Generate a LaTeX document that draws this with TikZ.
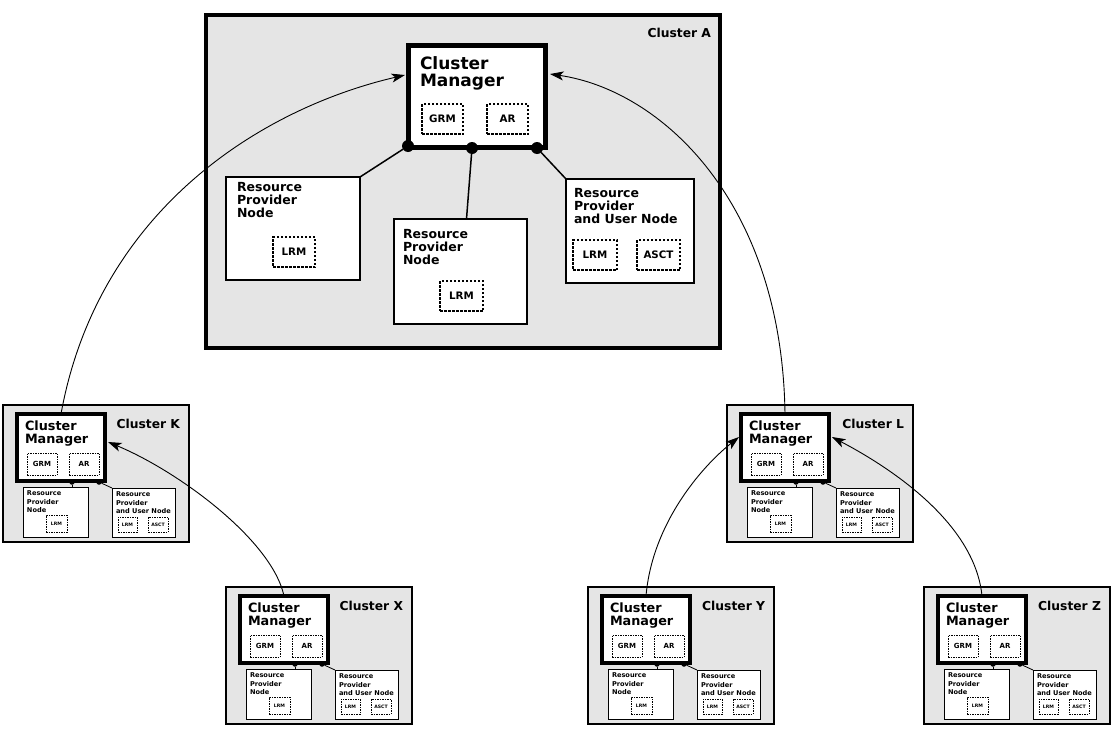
\documentclass[tikz,border=0pt]{standalone}
\usepackage{fontspec}
\setmainfont{DejaVu Sans}
\usetikzlibrary{arrows.meta,calc}
\definecolor{clusterbg}{HTML}{E5E5E5}
\newcommand{\fsz}[2]{\fontsize{#1}{#2}\selectfont\bfseries}
\tikzset{
  every node/.style={inner sep=0pt, outer sep=0pt},
  txt/.style={anchor=north west, align=left},
  bigcluster/.style={draw, fill=clusterbg, line width=4pt, anchor=north west},
  smallcluster/.style={draw, fill=clusterbg, line width=1.5pt, anchor=north west,
    minimum width=186pt, minimum height=137pt},
  bigcm/.style={draw, fill=white, line width=5pt, anchor=north west},
  smallcm/.style={draw, fill=white, line width=3.5pt, anchor=north west,
    minimum width=88pt, minimum height=67pt},
  bigbox/.style={draw, fill=white, line width=2pt, anchor=north west},
  smallbox/.style={draw, fill=white, line width=1pt, anchor=north west},
  bigdash/.style={draw, fill=white, line width=1.5pt, dash pattern=on 2.5pt off 1.5pt,
    anchor=north west, font=\fsz{10.3}{10.3}},
  smalldash/.style={draw, fill=white, line width=0.8pt, dash pattern=on 1.5pt off 1pt,
    anchor=north west},
  bigdot/.style={circle, fill=black, minimum size=12pt},
  smalldot/.style={circle, fill=black, minimum size=5.5pt},
  biglink/.style={line width=1.5pt},
  smalllink/.style={line width=0.8pt},
  flow/.style={-{Stealth[length=13.5pt,width=9pt,inset=3.5pt]}, line width=0.9pt}
}
\begin{document}
\begin{tikzpicture}[x=1pt,y=-1pt]
  \useasboundingbox (0,0) rectangle (1113,731);

  % cluster A
  \node[bigcluster, minimum width=514pt, minimum height=333pt] (clA) at (206,15) {};
  \node[anchor=base east, font=\fsz{12.3}{12.3}] (labA) at (711,37) {Cluster A};
  \node[bigcm, minimum width=137pt, minimum height=102pt] (cmA) at (408,45) {};
  \node[txt, font=\fsz{17}{17}] (cmtA) at (420,57) {Cluster\\Manager};
  \node[bigdash, minimum width=41pt, minimum height=30pt] (grmA) at (422,104) {GRM};
  \node[bigdash, minimum width=41pt, minimum height=30pt] (arA) at (487,104) {AR};

  \node[bigbox, minimum width=134pt, minimum height=103pt] (rpnA1) at (226,177) {};
  \node[txt, font=\fsz{12.5}{13}] (rpntA1) at (237,182) {Resource\\Provider\\Node};
  \node[bigdash, minimum width=42pt, minimum height=30pt] (lrmA1) at (273,237) {LRM};

  \node[bigbox, minimum width=133pt, minimum height=105pt] (rpnA2) at (394,219) {};
  \node[txt, font=\fsz{12.5}{13}] (rpntA2) at (403,229) {Resource\\Provider\\Node};
  \node[bigdash, minimum width=43pt, minimum height=30pt] (lrmA2) at (440,281) {LRM};

  \node[bigbox, minimum width=128pt, minimum height=104pt] (rpuA) at (566,179) {};
  \node[txt, font=\fsz{12.5}{13}] (rputA) at (574,188) {Resource\\Provider\\and User Node};
  \node[bigdash, minimum width=44pt, minimum height=30pt] (lrmA3) at (573,240) {LRM};
  \node[bigdash, minimum width=43pt, minimum height=30pt] (asctA) at (637,240) {ASCT};

  \node[bigdot] (d1A) at (408,146) {};
  \node[bigdot] (d2A) at (472,148) {};
  \node[bigdot] (d3A) at (537,148) {};
  \draw[biglink] (d1A) -- (rpnA1.north east);
  \draw[biglink] (d2A) -- ($(rpnA2.north)+(6,0)$);
  \draw[biglink] (d3A) -- (rpuA.north west);

  % small clusters
  \foreach \nm/\px/\py in {K/3/405, L/727/405, X/226/587, Y/588/587, Z/924/587} {
    \begin{scope}[shift={(\px,\py)}]
      \node[smallcluster] (cl\nm) at (0,0) {};
      \node[anchor=base east, font=\fsz{12.3}{12.3}] (lab\nm) at (177,23) {Cluster \nm};
      \node[smallcm] (cm\nm) at (14,9) {};
      \node[txt, font=\fsz{12.8}{12.7}] (cmt\nm) at (22,16) {Cluster\\Manager};
      \node[smalldash, minimum width=30pt, minimum height=22pt, font=\fsz{7}{7}] (grm\nm) at (24,48) {GRM};
      \node[smalldash, minimum width=30pt, minimum height=22pt, font=\fsz{7}{7}] (ar\nm) at (66,48) {AR};
      \node[smallbox, minimum width=65pt, minimum height=50pt] (rpn\nm) at (20,82) {};
      \node[txt, font=\fsz{6.6}{8.3}] (rpnt\nm) at (24,86) {Resource\\Provider\\Node};
      \node[smalldash, minimum width=21pt, minimum height=17pt, font=\fsz{4.6}{4.6}] (lrm\nm) at (43,110) {LRM};
      \node[smallbox, minimum width=63pt, minimum height=49pt] (rpu\nm) at (109,83) {};
      \node[txt, font=\fsz{6.6}{8.3}] (rput\nm) at (113,87) {Resource\\Provider\\and User Node};
      \node[smalldash, minimum width=19pt, minimum height=15pt, font=\fsz{4.6}{4.6}] (lrmu\nm) at (115,112) {LRM};
      \node[smalldash, minimum width=20pt, minimum height=15pt, font=\fsz{4.6}{4.6}] (asct\nm) at (145,112) {ASCT};
      \node[smalldot] (d1\nm) at (69,77) {};
      \node[smalldot] (d2\nm) at (96,77) {};
      \draw[smalllink] (d1\nm) -- (d1\nm |- rpn\nm.north);
      \draw[smalllink] (d2\nm) -- (rpu\nm.north west);
    \end{scope}
  }

  % links between managers
  \draw[flow] (cmK.north) .. controls (97,215) and (255,110) .. ($(cmA.north west)+(-3,30)$);
  \draw[flow] (cmL.north) .. controls (782,200) and (660,90) .. ($(cmA.north east)+(5,29)$);
  \draw[flow] (cmX.north) .. controls (272,540) and (178,471) .. ($(cmK.north east)+(3,28)$);
  \draw[flow] (cmY.north) .. controls (652,525) and (700,468) .. ($(cmL.north west)+(-2,23)$);
  \draw[flow] (cmZ.north) .. controls (975,525) and (895,470) .. ($(cmL.north east)+(3,23)$);
\end{tikzpicture}
\end{document}
